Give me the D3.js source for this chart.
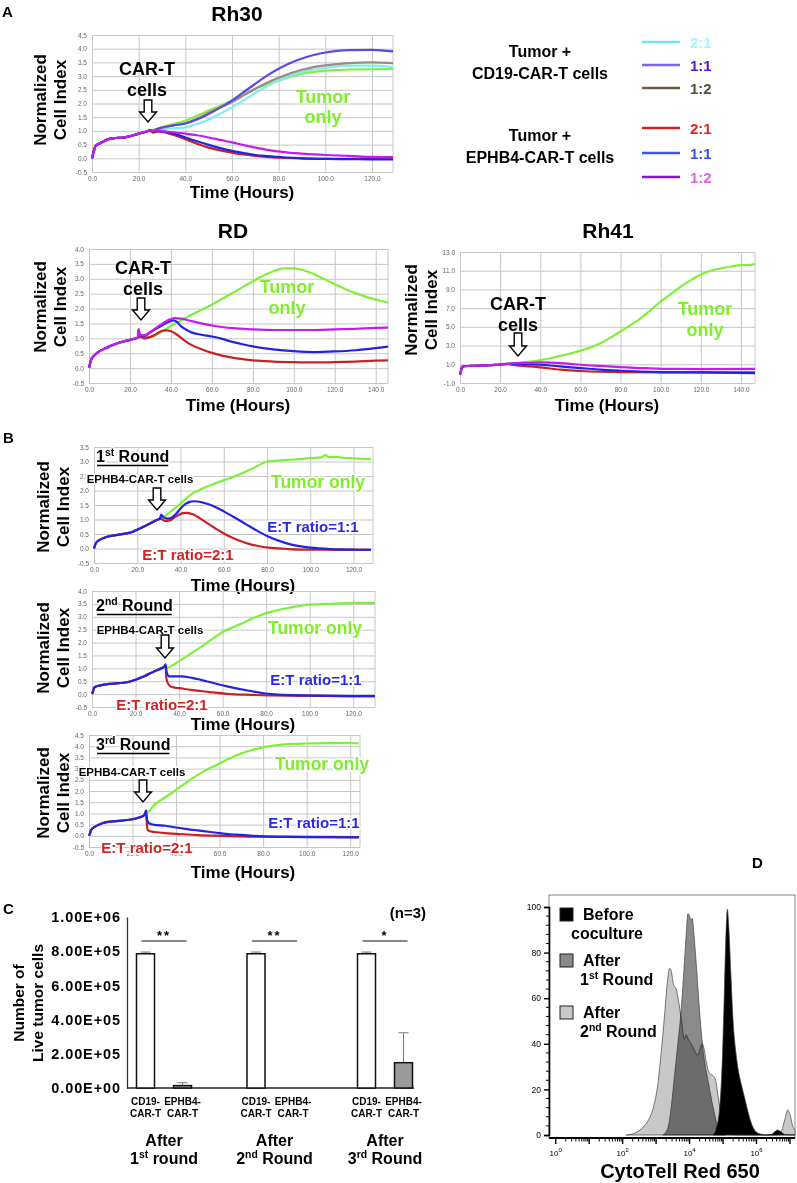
<!DOCTYPE html>
<html><head><meta charset="utf-8">
<script src="https://cdn.jsdelivr.net/npm/d3@7"></script>
<style>body{margin:0;background:#fff} svg{display:block} text{font-family:'Liberation Sans',Arial,sans-serif}</style>
</head><body><svg id="fig" width="797" height="1183"></svg>
<script>
// ================= DATA =================
// Panel A: Rh30 (hours, normalized cell index)
const rh30Common = [[0,0],[0.6,0.2],[1.5,0.45],[3,0.53],[5,0.62],[7.5,0.71],[10,0.74],[13,0.75],[16,0.8],[20,0.9],[23,0.97],[25,1.02]];
const rh30Tumor = [[28,1.08],[30,1.13],[35,1.25],[40,1.37],[45,1.55],[50,1.74],[55,1.92],[60,2.1],[65,2.33],[70,2.54],[75,2.7],[80,2.84],[85,2.98],[90,3.09],[95,3.15],[100,3.19],[110,3.24],[120,3.25],[129,3.26]];
const rh30Cd19_21 = [[26,0.97],[28,1.03],[30,1.06],[35,1.09],[40,1.13],[45,1.25],[50,1.42],[55,1.63],[60,1.86],[65,2.12],[70,2.38],[75,2.63],[80,2.84],[85,3.01],[90,3.15],[95,3.24],[100,3.3],[110,3.38],[120,3.38],[129,3.33]];
const rh30Cd19_11 = [[26,1.0],[28,1.07],[30,1.12],[35,1.2],[40,1.27],[45,1.42],[50,1.62],[55,1.85],[60,2.11],[65,2.42],[70,2.72],[75,3.02],[80,3.27],[85,3.48],[90,3.64],[95,3.77],[100,3.86],[105,3.92],[110,3.95],[120,3.96],[129,3.9]];
const rh30Cd19_12 = [[26,0.97],[28,1.07],[30,1.12],[35,1.2],[40,1.28],[45,1.45],[50,1.66],[55,1.86],[60,2.05],[65,2.3],[70,2.54],[75,2.76],[80,2.94],[85,3.1],[90,3.23],[95,3.33],[100,3.39],[110,3.47],[120,3.5],[129,3.47]];
const rh30Eph_21 = [[26,0.94],[28,0.97],[30,0.96],[35,0.85],[40,0.7],[45,0.53],[50,0.39],[55,0.29],[60,0.21],[65,0.14],[70,0.09],[75,0.05],[80,0.02],[90,0.0],[100,-0.02],[110,-0.02],[120,-0.01],[129,-0.01]];
const rh30Eph_11 = [[26,0.98],[28,1.0],[30,0.98],[35,0.9],[40,0.76],[45,0.62],[50,0.49],[55,0.37],[60,0.27],[65,0.19],[70,0.12],[75,0.08],[80,0.05],[90,0.0],[100,-0.02],[110,-0.03],[120,-0.04],[129,-0.04]];
const rh30Eph_12 = [[26,1.0],[28,1.01],[30,0.99],[35,0.95],[40,0.9],[45,0.84],[50,0.76],[55,0.67],[60,0.58],[65,0.48],[70,0.39],[75,0.31],[80,0.25],[85,0.2],[90,0.17],[100,0.12],[110,0.09],[120,0.05],[129,0.04]];

// Panel A: RD
const rdCommon = [[0,0],[0.5,0.15],[1,0.28],[2,0.38],[3,0.45],[5,0.56],[7.5,0.65],[10,0.73],[15,0.86],[20,0.95],[24,1.03]];
const rdTumor = [[25,1.05],[28,1.03],[30,1.04],[35,1.2],[40,1.42],[45,1.6],[50,1.79],[55,1.96],[60,2.13],[65,2.32],[70,2.52],[75,2.72],[80,2.91],[85,3.1],[90,3.25],[95,3.35],[100,3.35],[105,3.28],[110,3.15],[115,2.98],[120,2.82],[125,2.66],[130,2.52],[135,2.4],[140,2.3],[146,2.2]];
const rdEph_21 = [[25,1.05],[27,1.0],[30,1.05],[33,1.15],[36,1.26],[38,1.27],[40,1.24],[43,1.12],[46,0.96],[50,0.78],[55,0.63],[60,0.51],[65,0.42],[70,0.35],[75,0.3],[80,0.26],[90,0.22],[100,0.2],[110,0.19],[120,0.2],[130,0.22],[140,0.25],[146,0.26]];
const rdEph_11 = [[24.2,1.3],[24.8,1.12],[27,1.08],[30,1.2],[33,1.33],[36,1.45],[39,1.56],[41,1.6],[43,1.55],[45,1.4],[48,1.27],[50,1.2],[55,1.12],[60,1.06],[65,0.98],[70,0.88],[75,0.8],[80,0.73],[90,0.63],[100,0.57],[110,0.54],[120,0.56],[130,0.6],[140,0.67],[146,0.72]];
const rdEph_12 = [[24.2,1.3],[24.8,1.12],[27,1.1],[30,1.22],[33,1.36],[36,1.5],[39,1.62],[42,1.68],[45,1.66],[50,1.58],[55,1.5],[60,1.43],[65,1.38],[70,1.34],[80,1.3],[90,1.28],[100,1.28],[110,1.28],[120,1.3],[130,1.32],[140,1.35],[146,1.36]];

// Panel A: Rh41
const rh41Common = [[0,-0.1],[0.5,0.3],[1,0.7],[2,0.8],[5,0.82],[10,0.85],[15,0.92],[20,0.98],[24,1.05]];
const rh41Tumor = [[26,1.1],[30,1.18],[35,1.3],[40,1.45],[45,1.65],[50,1.9],[55,2.15],[60,2.46],[65,2.8],[70,3.25],[75,3.85],[80,4.5],[85,5.2],[90,5.9],[95,6.8],[100,7.7],[105,8.5],[110,9.3],[115,10.0],[120,10.6],[125,11.0],[130,11.25],[135,11.45],[140,11.6],[145,11.62],[147,11.75]];
const rh41Eph_21 = [[26,0.95],[30,0.85],[35,0.78],[40,0.67],[45,0.55],[50,0.42],[55,0.34],[60,0.28],[70,0.2],[80,0.17],[100,0.13],[120,0.13],[147,0.13]];
const rh41Eph_11 = [[26,1.05],[30,1.05],[35,1.02],[40,0.95],[45,0.87],[50,0.77],[55,0.68],[60,0.6],[70,0.42],[80,0.31],[90,0.23],[100,0.17],[120,0.13],[147,0.06]];
const rh41Eph_12 = [[26,1.1],[30,1.13],[35,1.16],[40,1.2],[45,1.18],[50,1.13],[55,1.05],[60,0.95],[70,0.82],[80,0.7],[90,0.6],[100,0.52],[110,0.5],[120,0.49],[147,0.5]];

// Panel B: three rounds
const b1Common = [[0,0],[0.5,0.12],[1,0.2],[2,0.27],[5,0.38],[10,0.46],[15,0.52],[18,0.58],[20,0.65],[25,0.83],[29,0.98],[30.5,1.03]];
const b1Tumor = [[31,1.05],[33,1.12],[35,1.25],[38,1.42],[40,1.55],[43,1.75],[46,1.92],[49,2.03],[54,2.19],[60,2.35],[65,2.48],[70,2.65],[75,2.82],[80,3.0],[85,3.03],[90,3.06],[95,3.08],[100,3.12],[105,3.14],[107,3.22],[108.5,3.15],[112,3.16],[116,3.12],[120,3.11],[125,3.09],[128,3.08]];
const b1Eph_11 = [[31,1.17],[32,1.08],[34,1.03],[36,1.07],[38,1.2],[40,1.38],[42,1.52],[44,1.6],[46,1.63],[48,1.62],[51,1.57],[54,1.5],[57,1.4],[60,1.28],[65,1.07],[70,0.85],[75,0.63],[80,0.43],[85,0.28],[90,0.16],[95,0.08],[100,0.03],[110,-0.02],[120,-0.04],[128,-0.05]];
const b1Eph_21 = [[31,1.02],[33,0.95],[35,0.97],[37,1.06],[39,1.15],[41,1.22],[43,1.23],[46,1.17],[49,1.04],[52,0.89],[56,0.7],[60,0.52],[64,0.37],[68,0.25],[72,0.15],[77,0.07],[82,0.02],[90,-0.02],[100,-0.04],[128,-0.05]];

const b2Common = [[0,0],[0.5,0.12],[1,0.25],[2,0.3],[3.8,0.34],[8.5,0.4],[14.6,0.44],[19,0.53],[24,0.69],[28.5,0.88],[33,1.05]];
const b2Tumor = [[33.8,1.08],[34.6,1.02],[37,1.12],[40,1.28],[45,1.55],[50,1.82],[55,2.12],[60,2.41],[65,2.6],[70,2.79],[75,2.98],[80,3.14],[85,3.25],[90,3.34],[95,3.41],[100,3.47],[110,3.5],[120,3.54],[130,3.54]];
const b2Eph_11 = [[33.8,1.15],[34.3,0.85],[35.4,0.69],[40.8,0.69],[46,0.63],[53,0.49],[62,0.3],[71.5,0.14],[81,0.01],[96,-0.05],[130,-0.08]];
const b2Eph_21 = [[33.8,1.08],[34.1,0.66],[34.6,0.47],[36,0.3],[38,0.25],[40,0.23],[45,0.17],[50,0.12],[55,0.07],[62,0.01],[73,-0.03],[90,-0.06],[130,-0.08]];

const b3Common = [[0,0],[0.5,0.12],[1,0.27],[3,0.42],[5,0.52],[8,0.61],[15,0.68],[20,0.74],[23,0.82],[25,0.89],[26,1.05]];
const b3Tumor = [[26.2,1.12],[27,1.08],[30,1.38],[35,1.72],[40,2.05],[45,2.4],[50,2.72],[55,3.0],[60,3.23],[65,3.47],[70,3.68],[75,3.83],[80,3.95],[85,4.03],[90,4.08],[100,4.12],[110,4.14],[120,4.15],[124,4.12]];
const b3Eph_11 = [[26.2,1.12],[26.6,0.75],[27.5,0.56],[30,0.49],[35,0.45],[40,0.37],[45,0.3],[50,0.24],[55,0.18],[60,0.12],[65,0.07],[70,0.04],[80,-0.03],[90,-0.05],[100,-0.06],[124,-0.07]];
const b3Eph_21 = [[26.2,1.1],[26.6,0.5],[27,0.27],[28,0.2],[30,0.17],[35,0.12],[40,0.09],[50,0.03],[60,0.0],[80,-0.04],[124,-0.06]];

// Panel C: live tumor cells
const roundsC = ['1','2','3'];
const roundOrdinal = ['st','nd','rd'];
const roundWord = ['round','Round','Round'];
const carTypes = ['CD19','EPHB4'];
const cd19Live = [7.85e5, 7.85e5, 7.85e5];
const cd19Err = [1.0e4, 1.0e4, 1.0e4];
const ephb4Live = [1.4e4, 0, 1.48e5];
const ephb4Err = [1.7e4, 0, 1.75e5];
const cTicks = [0, 2e5, 4e5, 6e5, 8e5, 1e6];
const signif = ['**', '**', '*'];

// Panel D: histograms [log10 intensity, % of max]
const dBefore = [[4.7,0],[4.8,3],[4.9,12],[4.97,30],[5.03,58],[5.08,85],[5.13,99],[5.17,92],[5.23,72],[5.3,50],[5.37,38],[5.45,29],[5.55,22],[5.65,16],[5.75,10],[5.85,5],[5.95,2],[6.1,0.5],[6.3,0],[6.45,0.3],[6.55,1.5],[6.63,2.2],[6.72,1.5],[6.85,0.2],[7.15,0]];
const dRound1 = [[3.2,0],[3.35,3],[3.45,12],[3.55,26],[3.65,40],[3.75,55],[3.83,72],[3.9,88],[3.95,97],[4.0,96],[4.04,94],[4.08,95],[4.13,88],[4.2,75],[4.28,58],[4.37,42],[4.45,32],[4.55,24],[4.65,16],[4.75,9],[4.85,3],[4.95,0.5],[5.05,0]];
const dRound2 = [[2.1,0],[2.3,0.5],[2.5,2],[2.7,5],[2.85,9],[2.95,14],[3.05,22],[3.15,36],[3.25,52],[3.33,66],[3.4,73],[3.45,72],[3.52,66],[3.6,64],[3.68,58],[3.76,50],[3.84,42],[3.9,44],[3.96,42],[4.05,40],[4.15,37],[4.25,35],[4.32,38],[4.38,40],[4.43,38],[4.5,32],[4.6,27],[4.7,26],[4.78,24],[4.85,17],[4.95,8],[5.05,2],[5.2,0.5],[5.5,0],[6.6,0],[6.75,2],[6.85,7],[6.93,11],[7.0,9],[7.08,4],[7.15,2]];
const dYTicks = [0, 20, 40, 60, 80, 100];
const dXDecadesLabeled = [0, 2, 4, 6];

// ================= STYLE =================
const C = {
  tumor: '#7ef03a', tumorText: '#80ee2c',
  cd19_21: '#7eeef4', cd19_11: '#5d4ae4', cd19_12: '#9c8a86',
  eph21: '#cc2020', eph11: '#2323e6', eph12: '#c41cf0',
  grid: '#c6c6c6'
};
const svg = d3.select('#fig');

function txt(x, y, s, o = {}) {
  return svg.append('text').attr('x', x).attr('y', y).text(s)
    .attr('font-size', o.size || 16).attr('font-weight', o.weight || 'bold')
    .attr('fill', o.fill || '#000').attr('text-anchor', o.anchor || 'start');
}
function halo(t) {
  return t.attr('stroke', '#fff').attr('stroke-width', 3).attr('paint-order', 'stroke').attr('stroke-linejoin', 'round');
}
function supText(x, y, parts, o = {}) {
  const t = svg.append('text').attr('x', x).attr('y', y)
    .attr('font-size', o.size || 16).attr('font-weight', 'bold')
    .attr('fill', o.fill || '#000').attr('text-anchor', o.anchor || 'start');
  const fs = o.size || 16;
  parts.forEach(([s, sup], i) => {
    const ts = t.append('tspan').text(s);
    if (sup) ts.attr('font-size', fs * 0.65).attr('dy', -fs * 0.38);
    else if (i > 0 && parts[i - 1][1]) ts.attr('dy', fs * 0.38);
  });
  return t;
}
function yLabel(x1, x2, cy, l1, l2, size) {
  [[x1, l1], [x2, l2]].forEach(([x, s]) => {
    svg.append('text').attr('transform', `translate(${x},${cy}) rotate(-90)`)
      .attr('text-anchor', 'middle').attr('dy', '0.35em')
      .attr('font-size', size).attr('font-weight', 'bold').text(s);
  });
}
function arrow(cx, top, tip) {
  const hw = 3.8, hh = 10, w = 8.5;
  const p = `M${cx - hw},${top}L${cx + hw},${top}L${cx + hw},${tip - hh}L${cx + w},${tip - hh}L${cx},${tip}L${cx - w},${tip - hh}L${cx - hw},${tip - hh}Z`;
  svg.append('path').attr('d', p).attr('fill', '#fff').attr('stroke', '#000').attr('stroke-width', 1.4);
}

function linePanel(p) {
  const g = svg.append('g');
  const x = d3.scaleLinear().domain(p.xDomain).range([p.left, p.right]);
  const y = d3.scaleLinear().domain(p.yDomain).range([p.bottom, p.top]);
  const ax = g.append('g').attr('transform', `translate(0,${p.bottom})`)
    .call(d3.axisBottom(x).tickValues(p.xTicks).tickSize(-(p.bottom - p.top)).tickPadding(4).tickFormat(d => d.toFixed(1)));
  const ay = g.append('g').attr('transform', `translate(${p.left},0)`)
    .call(d3.axisLeft(y).tickValues(p.yTicks).tickSize(-(p.right - p.left)).tickPadding(5).tickFormat(d => d.toFixed(1)));
  [ax, ay].forEach(a => {
    a.select('.domain').remove();
    a.selectAll('line').attr('stroke', C.grid).attr('stroke-width', 1);
    a.selectAll('text').attr('font-family', "'Liberation Mono', monospace").attr('font-size', 6.5).attr('fill', '#666').attr('font-weight', 'normal');
  });
  g.append('line').attr('x1', p.right).attr('x2', p.right).attr('y1', p.top).attr('y2', p.bottom).attr('stroke', C.grid);
  const line = d3.line().x(d => x(d[0])).y(d => y(d[1])).curve(d3.curveMonotoneX);
  p.series.forEach(s => g.append('path').attr('d', line(s.data)).attr('fill', 'none')
    .attr('stroke', s.color).attr('stroke-width', 2.2).attr('stroke-linejoin', 'round'));
  return { x, y };
}
const hrs = [0, 20, 40, 60, 80, 100, 120];
const hrs140 = [0, 20, 40, 60, 80, 100, 120, 140];
const stepTicks = (a, b, s) => d3.range(a, b + s / 2, s);

// ================= PANEL A =================
txt(2, 17, 'A', { size: 15 });
txt(237, 21, 'Rh30', { size: 21, anchor: 'middle' });
linePanel({ left: 92, right: 393, top: 35, bottom: 172, xDomain: [0, 129], yDomain: [-0.5, 4.5], xTicks: hrs, yTicks: stepTicks(-0.5, 4.5, 0.5),
  series: [
    { color: C.tumor, data: rh30Common.concat(rh30Tumor) },
    { color: C.cd19_21, data: rh30Common.concat(rh30Cd19_21) },
    { color: C.cd19_12, data: rh30Common.concat(rh30Cd19_12) },
    { color: C.cd19_11, data: rh30Common.concat(rh30Cd19_11) },
    { color: C.eph21, data: rh30Common.concat(rh30Eph_21) },
    { color: C.eph11, data: rh30Common.concat(rh30Eph_11) },
    { color: C.eph12, data: rh30Common.concat(rh30Eph_12) }
  ] });
yLabel(40, 60, 100, 'Normalized', 'Cell Index', 17);
txt(242, 198, 'Time (Hours)', { size: 17, anchor: 'middle' });
txt(147, 75, 'CAR-T', { size: 18, anchor: 'middle' });
txt(147, 96, 'cells', { size: 18, anchor: 'middle' });
arrow(148, 100, 122);
txt(323, 103, 'Tumor', { size: 18, anchor: 'middle', fill: C.tumorText });
txt(323, 123, 'only', { size: 18, anchor: 'middle', fill: C.tumorText });

// legend
txt(540, 57, 'Tumor +', { size: 16, anchor: 'middle' });
txt(540, 79, 'CD19-CAR-T cells', { size: 16, anchor: 'middle' });
txt(540, 141, 'Tumor +', { size: 16, anchor: 'middle' });
txt(540, 163, 'EPHB4-CAR-T cells', { size: 16, anchor: 'middle' });
const legendItems = [
  { y: 42, line: '#70e6ee', label: '2:1', fill: '#a4f6f8' },
  { y: 65, line: '#7a66ee', label: '1:1', fill: '#5a14e2' },
  { y: 88, line: '#6e5c44', label: '1:2', fill: '#525230' },
  { y: 128, line: '#d02424', label: '2:1', fill: '#d82626' },
  { y: 153, line: '#3a56ee', label: '1:1', fill: '#3b4ef0' },
  { y: 177, line: '#8c12d8', label: '1:2', fill: '#e062ea' }
];
legendItems.forEach(d => {
  svg.append('line').attr('x1', 642).attr('x2', 680).attr('y1', d.y).attr('y2', d.y).attr('stroke', d.line).attr('stroke-width', 2.5);
  txt(690, d.y + 5.5, d.label, { size: 15, fill: d.fill });
});

// RD
txt(233, 238, 'RD', { size: 21, anchor: 'middle' });
linePanel({ left: 89, right: 388, top: 249, bottom: 383, xDomain: [0, 146], yDomain: [-0.5, 4.0], xTicks: hrs140, yTicks: stepTicks(-0.5, 4.0, 0.5),
  series: [
    { color: C.tumor, data: rdCommon.concat(rdTumor) },
    { color: C.eph21, data: rdCommon.concat(rdEph_21) },
    { color: C.eph11, data: rdCommon.concat(rdEph_11) },
    { color: C.eph12, data: rdCommon.concat(rdEph_12) }
  ] });
yLabel(40, 60, 307, 'Normalized', 'Cell Index', 17);
txt(238, 411, 'Time (Hours)', { size: 17, anchor: 'middle' });
txt(143, 274, 'CAR-T', { size: 18, anchor: 'middle' });
txt(143, 295, 'cells', { size: 18, anchor: 'middle' });
arrow(141, 298, 320);
txt(287, 293, 'Tumor', { size: 18, anchor: 'middle', fill: C.tumorText });
txt(287, 314, 'only', { size: 18, anchor: 'middle', fill: C.tumorText });

// Rh41
txt(608, 238, 'Rh41', { size: 21, anchor: 'middle' });
linePanel({ left: 460, right: 755, top: 252, bottom: 383, xDomain: [0, 147], yDomain: [-1, 13], xTicks: hrs140, yTicks: stepTicks(-1, 13, 2),
  series: [
    { color: C.tumor, data: rh41Common.concat(rh41Tumor) },
    { color: C.eph21, data: rh41Common.concat(rh41Eph_21) },
    { color: C.eph11, data: rh41Common.concat(rh41Eph_11) },
    { color: C.eph12, data: rh41Common.concat(rh41Eph_12) }
  ] });
yLabel(411, 431, 310, 'Normalized', 'Cell Index', 17);
txt(607, 411, 'Time (Hours)', { size: 17, anchor: 'middle' });
txt(518, 310, 'CAR-T', { size: 18, anchor: 'middle' });
txt(518, 331, 'cells', { size: 18, anchor: 'middle' });
arrow(518, 333, 356);
txt(705, 315, 'Tumor', { size: 18, anchor: 'middle', fill: C.tumorText });
txt(705, 336, 'only', { size: 18, anchor: 'middle', fill: C.tumorText });

// ================= PANEL B =================
txt(3, 443, 'B', { size: 15 });
const bPanels = [
  { left: 94, right: 373, top: 447, bottom: 563, xDomain: [0, 129], yDomain: [-0.5, 3.5], common: b1Common, tumor: b1Tumor, e11: b1Eph_11, e21: b1Eph_21,
    ylab: 507, time: 591, ord: ['1', 'st'], roundY: 462, ephX: 140, ephY: 483, arrowX: 157, arrowT: 488, arrowB: 510,
    tumorX: 318, tumorY: 488, e11X: 313, e11Y: 532, e21X: 188, e21Y: 560 },
  { left: 92, right: 375, top: 591, bottom: 707, xDomain: [0, 130], yDomain: [-0.5, 4.0], common: b2Common, tumor: b2Tumor, e11: b2Eph_11, e21: b2Eph_21,
    ylab: 648, time: 730, ord: ['2', 'nd'], roundY: 611, ephX: 150, ephY: 634, arrowX: 165, arrowT: 635, arrowB: 658,
    tumorX: 315, tumorY: 634, e11X: 316, e11Y: 685, e21X: 162, e21Y: 710 },
  { left: 89, right: 360, top: 735, bottom: 847, xDomain: [0, 124.5], yDomain: [-0.5, 4.5], common: b3Common, tumor: b3Tumor, e11: b3Eph_11, e21: b3Eph_21,
    ylab: 793, time: 878, ord: ['3', 'rd'], roundY: 750, ephX: 132, ephY: 776, arrowX: 143, arrowT: 780, arrowB: 802,
    tumorX: 322, tumorY: 770, e11X: 314, e11Y: 828, e21X: 147, e21Y: 853 }
];
bPanels.forEach(b => {
  linePanel({ left: b.left, right: b.right, top: b.top, bottom: b.bottom, xDomain: b.xDomain, yDomain: b.yDomain, xTicks: hrs,
    yTicks: stepTicks(b.yDomain[0], b.yDomain[1], 0.5),
    series: [
      { color: C.tumor, data: b.common.concat(b.tumor) },
      { color: C.eph21, data: b.common.concat(b.e21) },
      { color: C.eph11, data: b.common.concat(b.e11) }
    ] });
  yLabel(43, 63, b.ylab, 'Normalized', 'Cell Index', 17);
  txt(243, b.time, 'Time (Hours)', { size: 17, anchor: 'middle' });
  const rt = halo(supText(96, b.roundY, [[b.ord[0]], [b.ord[1], true], [' Round']], { size: 16 }));
  const bb = rt.node().getBBox();
  svg.append('line').attr('x1', bb.x + 1).attr('x2', bb.x + bb.width - 1).attr('y1', b.roundY + 3.5).attr('y2', b.roundY + 3.5).attr('stroke', '#000').attr('stroke-width', 1.6);
  halo(txt(b.ephX, b.ephY, 'EPHB4-CAR-T cells', { size: 11.5, anchor: 'middle' }));
  arrow(b.arrowX, b.arrowT, b.arrowB);
  halo(txt(b.tumorX, b.tumorY, 'Tumor only', { size: 17.5, anchor: 'middle', fill: C.tumorText }));
  halo(txt(b.e11X, b.e11Y, 'E:T ratio=1:1', { size: 15, anchor: 'middle', fill: '#2a2ae6' }));
  halo(txt(b.e21X, b.e21Y, 'E:T ratio=2:1', { size: 15, anchor: 'middle', fill: '#d02424' }));
});

// ================= PANEL C =================
txt(3, 914, 'C', { size: 15 });
const cy = d3.scaleLinear().domain([0, 1e6]).range([1088, 917]);
const cx = d3.scaleBand().domain(roundsC).range([108.75, 440.25]);
const cSub = d3.scaleBand().domain(carTypes).range([18.25, 92.25]);
const expFmt = d => { const [m, e] = d.toExponential(2).split('e'); return `${m}E${e[0]}${e.slice(1).padStart(2, '0')}`; };
const cAxis = svg.append('g').attr('transform', 'translate(127,0)')
  .call(d3.axisLeft(cy).tickValues(cTicks).tickSize(0).tickPadding(6).tickFormat(expFmt));
cAxis.select('.domain').attr('stroke', '#333').attr('stroke-width', 1.3);
cAxis.selectAll('text').attr('font-size', 14.5).attr('font-weight', 'bold').attr('fill', '#000').attr('letter-spacing', 0.9)
  .attr('font-family', "'Liberation Sans', Arial, sans-serif");
svg.append('line').attr('x1', 127).attr('x2', 414).attr('y1', cy(0)).attr('y2', cy(0)).attr('stroke', '#222').attr('stroke-width', 1.5);
yLabel(19, 38, 1003, 'Number of', 'Live tumor cells', 15.5);
txt(408, 918, '(n=3)', { size: 15, anchor: 'middle' });
const barW = 18;
roundsC.forEach((r, i) => {
  const vals = [[cd19Live[i], cd19Err[i], '#fff'], [ephb4Live[i], ephb4Err[i], '#9a9a9a']];
  vals.forEach(([v, e, fill], j) => {
    const xc = cx(r) + cSub(carTypes[j]) + cSub.bandwidth() / 2;
    if (e > 0) {
      svg.append('line').attr('x1', xc).attr('x2', xc).attr('y1', cy(v)).attr('y2', cy(v + e)).attr('stroke', '#777').attr('stroke-width', 1);
      svg.append('line').attr('x1', xc - 5).attr('x2', xc + 5).attr('y1', cy(v + e)).attr('y2', cy(v + e)).attr('stroke', '#777').attr('stroke-width', 1);
    }
    if (v > 0) svg.append('rect').attr('x', xc - barW / 2).attr('y', cy(v)).attr('width', barW).attr('height', cy(0) - cy(v))
      .attr('fill', fill).attr('stroke', '#111').attr('stroke-width', 1.5);
    txt(xc, 1105, carTypes[j] + '-', { size: 10, anchor: 'middle' });
    txt(xc, 1117, 'CAR-T', { size: 10, anchor: 'middle' });
  });
  const x1 = cx(r) + cSub('CD19') + cSub.bandwidth() / 2 - 4, x2 = cx(r) + cSub('EPHB4') + cSub.bandwidth() / 2 + 4;
  svg.append('line').attr('x1', x1).attr('x2', x2).attr('y1', 941).attr('y2', 941).attr('stroke', '#111').attr('stroke-width', 1.2);
  txt((x1 + x2) / 2, 940, signif[i], { size: 13, anchor: 'middle' }).attr('letter-spacing', 2);
  const gc = cx(r) + cx.bandwidth() / 2;
  txt(gc, 1146, 'After', { size: 16, anchor: 'middle' });
  supText(gc, 1164, [[r], [roundOrdinal[i], true], [' ' + roundWord[i]]], { size: 16, anchor: 'middle' });
});

// ================= PANEL D =================
txt(752, 868, 'D', { size: 15 });
const dx = d3.scaleLog().domain([Math.pow(10, -0.2), Math.pow(10, 7.15)]).range([549, 795]);
const dy = d3.scaleLinear().domain([0, 100]).range([1135, 907]);
svg.append('rect').attr('x', 549).attr('y', 895).attr('width', 246).attr('height', 243).attr('fill', 'none').attr('stroke', '#666').attr('stroke-width', 0.8);
const area = d3.area().x(d => dx(Math.pow(10, d[0]))).y0(dy(0)).y1(d => dy(d[1])).curve(d3.curveMonotoneX);
const hg = svg.append('g').style('isolation', 'isolate');
[[dRound2, '#c8c8c8'], [dRound1, '#8a8a8a'], [dBefore, '#000']].forEach(([d, f]) => {
  hg.append('path').attr('d', area(d)).attr('fill', f).attr('stroke', '#444').attr('stroke-width', 0.7).style('mix-blend-mode', 'multiply');
});
// axes
const dyAxis = svg.append('g').attr('transform', 'translate(549,0)')
  .call(d3.axisLeft(dy).tickValues(dYTicks).tickSize(5).tickPadding(3));
dyAxis.select('.domain').attr('stroke', '#000').attr('stroke-width', 1.6);
dyAxis.selectAll('line').attr('stroke-width', 1.4);
dyAxis.selectAll('text').attr('font-size', 8.5).attr('font-family', "'Liberation Sans', Arial, sans-serif");
d3.range(0, 101, 4).filter(v => v % 20).forEach(v => svg.append('line').attr('x1', 546).attr('x2', 549).attr('y1', dy(v)).attr('y2', dy(v)).attr('stroke', '#000').attr('stroke-width', 1));
svg.append('line').attr('x1', 549).attr('x2', 795).attr('y1', 1138).attr('y2', 1138).attr('stroke', '#000').attr('stroke-width', 1.8);
for (let e = 0; e <= 7; e++) {
  for (let m = 1; m <= 9; m++) {
    const v = m * Math.pow(10, e);
    if (v > Math.pow(10, 7.15)) continue;
    const xx = dx(v);
    svg.append('line').attr('x1', xx).attr('x2', xx).attr('y1', 1138).attr('y2', 1138 + (m === 1 ? 6 : 3.5)).attr('stroke', '#000').attr('stroke-width', m === 1 ? 1.4 : 1);
  }
}
dXDecadesLabeled.forEach(e => {
  const t = svg.append('text').attr('x', dx(Math.pow(10, e))).attr('y', 1156).attr('text-anchor', 'middle').attr('font-size', 8);
  t.append('tspan').text('10');
  t.append('tspan').text(e).attr('font-size', 6).attr('dy', -4);
});
txt(680, 1178, 'CytoTell Red 650', { size: 20, anchor: 'middle' });
// legend
[[908, '#000', 'Before', 'coculture', null], [954, '#8a8a8a', 'After', '1', 'st'], [1006, '#c8c8c8', 'After', '2', 'nd']].forEach(([y, f, l1, l2, sup]) => {
  svg.append('rect').attr('x', 560).attr('y', y).attr('width', 13).attr('height', 13).attr('fill', f).attr('stroke', '#222').attr('stroke-width', 1);
  txt(583, y + 12, l1, { size: 16 });
  if (sup) supText(580, y + 31, [[l2], [sup, true], [' Round']], { size: 16 });
  else txt(571, y + 31, l2, { size: 16 });
});
</script></body></html>
